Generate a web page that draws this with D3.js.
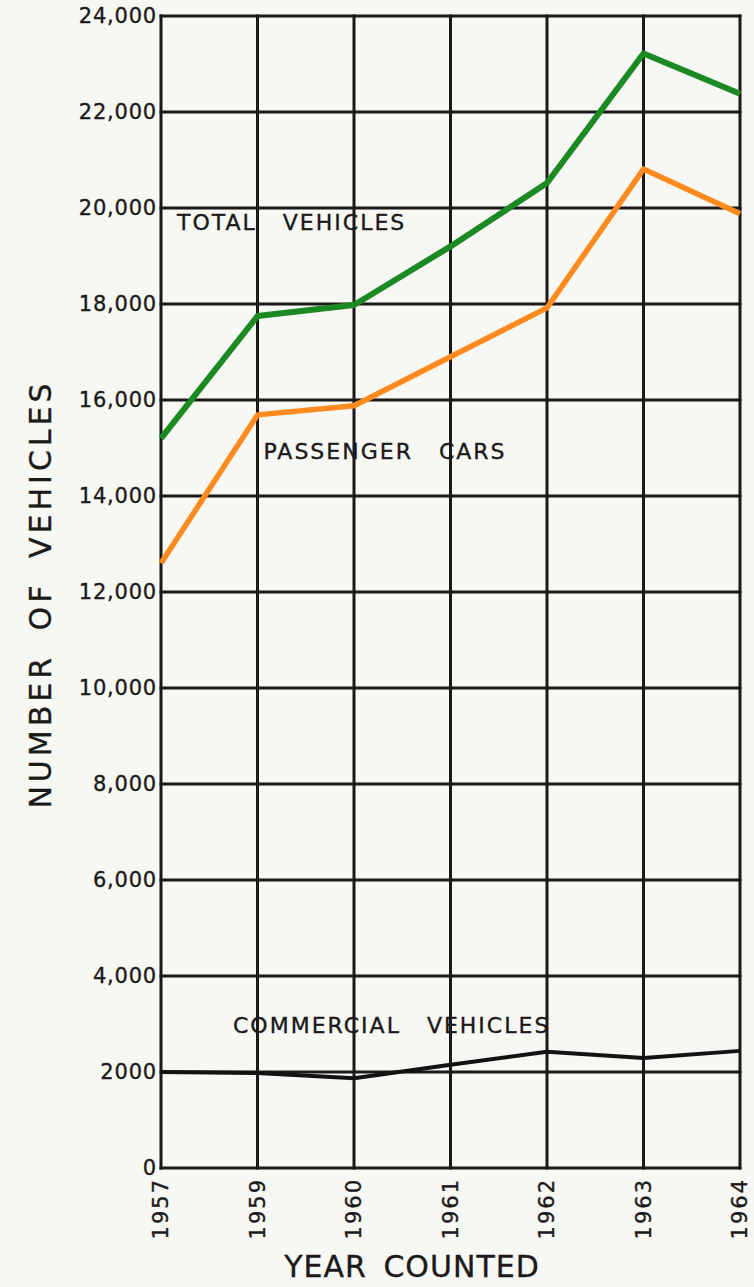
<!DOCTYPE html>
<html>
<head>
<meta charset="utf-8">
<title>Number of vehicles by year counted</title>
<script src="https://d3js.org/d3.v7.min.js"></script>
<style>
    body { margin: 0; background: #f7f7f4; }
    svg { display: block; font-family: "DejaVu Sans", sans-serif; }
    svg text { stroke: #1b1919; stroke-width: 0.35px; }
</style>
</head>
<body>
<div id="chart"></div>
<script>
    // values
    const years = ["1957", "1959", "1960", "1961", "1962", "1963", "1964"];
    const totalVehicles = [15200, 17750, 17980, 19200, 20520, 23220, 22380];
    const passengerCars = [12600, 15690, 15880, 16900, 17920, 20810, 19880];
    const commercialVehicles = [2000, 1980, 1870, 2150, 2420, 2290, 2440];

    const yTicks = [0, 2000, 4000, 6000, 8000, 10000, 12000, 14000, 16000, 18000, 20000, 22000, 24000];
    const yTickLabels = ["0", "2000", "4,000", "6,000", "8,000", "10,000", "12,000",
        "14,000", "16,000", "18,000", "20,000", "22,000", "24,000"];

    const width = 754;
    const height = 1287;
    const margin = { top: 16, right: 14, bottom: 119, left: 161 };
    const ink = "#1b1919";

    const x = d3.scalePoint()
        .domain(years)
        .range([margin.left, width - margin.right]);

    const y = d3.scaleLinear()
        .domain([0, 24000])
        .range([height - margin.bottom, margin.top]);

    const svg = d3.select("#chart")
        .append("svg")
        .attr("width", width)
        .attr("height", height);

    // grid
    svg.append("g")
        .selectAll("line")
        .data(yTicks)
        .join("line")
        .attr("x1", margin.left)
        .attr("x2", width - margin.right)
        .attr("y1", d => y(d))
        .attr("y2", d => y(d))
        .attr("stroke", ink)
        .attr("stroke-width", 3)
        .attr("stroke-linecap", "square");

    svg.append("g")
        .selectAll("line")
        .data(years)
        .join("line")
        .attr("x1", d => x(d))
        .attr("x2", d => x(d))
        .attr("y1", margin.top)
        .attr("y2", height - margin.bottom)
        .attr("stroke", ink)
        .attr("stroke-width", 3)
        .attr("stroke-linecap", "square");

    // y tick labels
    svg.append("g")
        .selectAll("text")
        .data(yTicks)
        .join("text")
        .attr("x", margin.left - 4)
        .attr("y", d => y(d))
        .attr("text-anchor", "end")
        .attr("dominant-baseline", "central")
        .style("font-size", "21px")
        .style("letter-spacing", "0.8px")
        .attr("fill", ink)
        .text((d, i) => yTickLabels[i]);

    // x tick labels, rotated
    svg.append("g")
        .selectAll("text")
        .data(years)
        .join("text")
        .attr("transform", d => `translate(${x(d)},${height - margin.bottom + 10}) rotate(-90)`)
        .attr("text-anchor", "end")
        .attr("dominant-baseline", "central")
        .style("font-size", "21px")
        .style("letter-spacing", "2px")
        .attr("fill", ink)
        .text(d => d);

    // series lines
    const line = d3.line()
        .x((d, i) => x(years[i]))
        .y(d => y(d));

    svg.append("path")
        .datum(commercialVehicles)
        .attr("fill", "none")
        .attr("stroke", "#121212")
        .attr("stroke-width", 4)
        .attr("stroke-linejoin", "round")
        .attr("d", line);

    svg.append("path")
        .datum(passengerCars)
        .attr("fill", "none")
        .attr("stroke", "#ff8a1d")
        .attr("stroke-width", 5.5)
        .attr("stroke-linejoin", "round")
        .attr("d", line);

    svg.append("path")
        .datum(totalVehicles)
        .attr("fill", "none")
        .attr("stroke", "#1b8a22")
        .attr("stroke-width", 6)
        .attr("stroke-linejoin", "round")
        .attr("d", line);

    // series labels
    function seriesLabel(txt, xPos, yPos) {
        svg.append("text")
            .attr("x", xPos)
            .attr("y", yPos)
            .attr("dominant-baseline", "central")
            .style("font-size", "22px")
            .style("letter-spacing", "2px")
            .style("word-spacing", "17px")
            .attr("fill", ink)
            .text(txt);
    }
    seriesLabel("TOTAL VEHICLES", x("1957") + 16, y(19700));
    seriesLabel("PASSENGER CARS", x("1959") + 6, y(14930));
    seriesLabel("COMMERCIAL VEHICLES", x("1957") + 72, y(2960));

    // axis titles
    svg.append("text")
        .attr("transform", `translate(40,${y(12000) + 2}) rotate(-90)`)
        .attr("text-anchor", "middle")
        .attr("dominant-baseline", "central")
        .style("font-size", "30px")
        .style("letter-spacing", "4px")
        .style("word-spacing", "10px")
        .attr("fill", ink)
        .text("NUMBER OF VEHICLES");

    svg.append("text")
        .attr("x", 412)
        .attr("y", 1277)
        .attr("text-anchor", "middle")
        .style("font-size", "30px")
        .style("letter-spacing", "1px")
        .style("word-spacing", "6px")
        .attr("fill", ink)
        .text("YEAR COUNTED");
</script>
</body>
</html>
